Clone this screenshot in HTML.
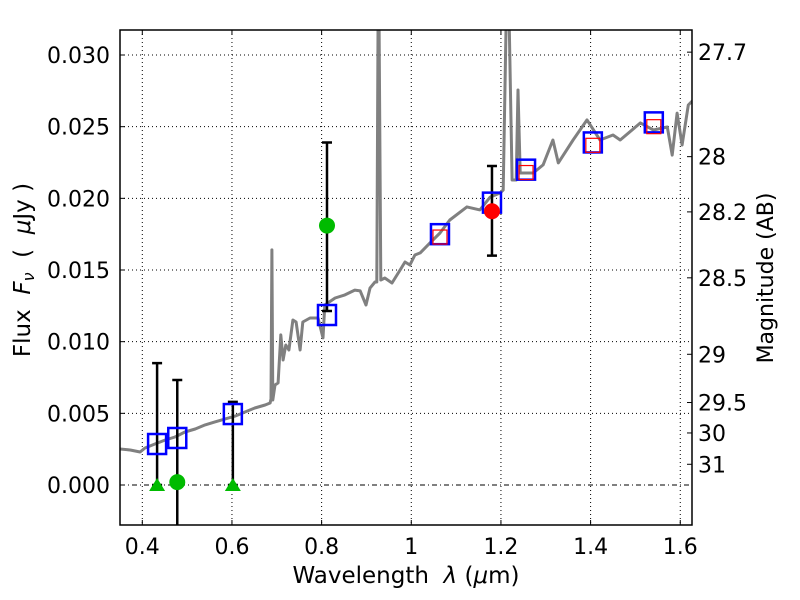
<!DOCTYPE html>
<html><head><meta charset="utf-8"><style>
html,body{margin:0;padding:0;background:#fff;}
svg{display:block;font-family:"DejaVu Sans","Liberation Sans",sans-serif;}
</style></head><body>
<svg id="chart" width="800" height="600" viewBox="0 0 800 600" xmlns="http://www.w3.org/2000/svg">
<rect width="800" height="600" fill="#fff"/>
<defs><clipPath id="clip"><rect x="120" y="30" width="572" height="495"/></clipPath></defs>
<g id="grid"></g>
<g id="marks" clip-path="url(#clip)"></g>
<g id="axes"></g>
<text transform="translate(30,270) rotate(-90)" text-anchor="middle" font-size="23" xml:space="preserve">Flux  <tspan font-style="italic">F</tspan><tspan font-style="italic" font-size="16" dy="4">ν</tspan><tspan dy="-4">  (  </tspan><tspan font-style="italic">μ</tspan>Jy )</text>
<text transform="translate(773,278) rotate(-90)" text-anchor="middle" font-size="22">Magnitude (AB)</text>
<text x="406" y="583" text-anchor="middle" font-size="23" xml:space="preserve">Wavelength  <tspan font-style="italic">λ</tspan> (<tspan font-style="italic">μ</tspan>m)</text>
</svg>
<script>
const specWl=[0.350,0.373,0.395,0.406,0.428,0.451,0.473,0.495,0.518,0.540,0.562,0.584,0.607,0.629,0.651,0.674,0.685,0.687,0.689,0.691,0.696,0.703,0.709,0.714,0.720,0.727,0.736,0.743,0.752,0.758,0.774,0.792,0.803,0.807,0.830,0.852,0.874,0.886,0.899,0.908,0.919,0.923,0.926,0.928,0.932,0.941,0.957,0.975,0.986,0.997,1.008,1.020,1.042,1.064,1.086,1.124,1.153,1.176,1.198,1.205,1.212,1.218,1.225,1.234,1.238,1.243,1.272,1.294,1.316,1.328,1.361,1.392,1.421,1.450,1.466,1.511,1.540,1.571,1.582,1.593,1.604,1.618,1.629];
const specFlux=[0.00251,0.00244,0.00230,0.00258,0.00286,0.00314,0.00335,0.00370,0.00391,0.00419,0.00440,0.00460,0.00481,0.00509,0.00537,0.00558,0.00572,0.00600,0.0164,0.00593,0.00698,0.00712,0.01047,0.00872,0.00977,0.00942,0.01151,0.01137,0.00942,0.01137,0.01165,0.01165,0.01026,0.01256,0.01305,0.01326,0.01360,0.01354,0.01256,0.01374,0.01416,0.01416,0.033,0.033,0.01430,0.01444,0.01409,0.01500,0.01556,0.01535,0.01605,0.01619,0.01690,0.01758,0.01849,0.01940,0.01919,0.02009,0.02037,0.02058,0.033,0.033,0.02128,0.02128,0.02756,0.02177,0.02177,0.02233,0.02407,0.02247,0.02407,0.02547,0.02407,0.02442,0.02407,0.02526,0.02477,0.02498,0.02302,0.02595,0.02372,0.02651,0.02686];
const sqWl=[0.433,0.478,0.602,0.812,1.064,1.180,1.256,1.405,1.541];
const sqFlux=[0.00286,0.00328,0.00495,0.01186,0.0175,0.0197,0.0220,0.0239,0.0253];
const redSqWl=[1.064,1.256,1.405,1.541];
const redSqFlux=[0.0173,0.0218,0.0237,0.0250];
const greenCircWl=[0.478,0.812];
const greenCircFlux=[0.0002,0.0181];
const redCircWl=[1.180];
const redCircFlux=[0.0191];
const triWl=[0.433,0.602];
const triFlux=[0,0];
const errWl=[0.433,0.478,0.602,0.812,1.180];
const errLo=[0,-0.004,0,0.01214,0.0160];
const errHi=[0.0085,0.00733,0.0058,0.0239,0.02226];
const xTicks=[0.4,0.6,0.8,1.0,1.2,1.4,1.6];
const xTickLabels=["0.4","0.6","0.8","1","1.2","1.4","1.6"];
const yTicks=[0,0.005,0.010,0.015,0.020,0.025,0.030];
const yTickLabels=["0.000","0.005","0.010","0.015","0.020","0.025","0.030"];
const magTicks=[27.7,28,28.2,28.5,29,29.5,30,31];
const magTickLabels=["27.7","28","28.2","28.5","29","29.5","30","31"];

const X0=120,X1=692,Y0=30,Y1=525;
const xs=w=>142.3+(w-0.4)*448.3;
const ys=f=>485-f*14333;
const magToFlux=m=>Math.pow(10,(23.9-m)/2.5);
const NS="http://www.w3.org/2000/svg";
function mk(parent,tag,attrs){const e=document.createElementNS(NS,tag);for(const k in attrs)e.setAttribute(k,attrs[k]);parent.appendChild(e);return e;}
const grid=document.getElementById('grid'),marks=document.getElementById('marks'),axes=document.getElementById('axes');

xTicks.forEach((t,i)=>{
  const x=xs(t);
  const g=mk(grid,'line',{x1:x,x2:x,y1:Y0,y2:Y1,stroke:'#000','stroke-width':1,'stroke-dasharray':'1,3'});
  
  
  const tk=mk(axes,'path',{d:`M${x},${Y1}v-5M${x},${Y0}v5`,stroke:'#000','stroke-width':1});
  
  
  const lb=mk(axes,'text',{x:x,y:554,'text-anchor':'middle','font-size':22});
  lb.textContent=xTickLabels[i];
  
  
});
yTicks.forEach((t,i)=>{
  const y=ys(t);
  const g=mk(grid,'line',{x1:X0,x2:X1,y1:y,y2:y,stroke:'#000','stroke-width':1,'stroke-dasharray':t===0?'5,3,1,3':'1,3'});
  
  
  const tk=mk(axes,'path',{d:`M${X0},${y}h5`,stroke:'#000','stroke-width':1});
  
  
  const lb=mk(axes,'text',{x:110,y:y+8,'text-anchor':'end','font-size':22});
  lb.textContent=yTickLabels[i];
  
  
});
magTicks.forEach((m,i)=>{
  const y=ys(magToFlux(m));
  const tk=mk(axes,'path',{d:`M${X1},${y}h-5`,stroke:'#000','stroke-width':1});
  
  
  const lb=mk(axes,'text',{x:698,y:y+8,'text-anchor':'start','font-size':22});
  lb.textContent=magTickLabels[i];
  
  
});

let d='';
specWl.forEach((w,i)=>{d+=(i?'L':'M')+xs(w).toFixed(1)+','+ys(specFlux[i]).toFixed(1);});
const sp=mk(marks,'path',{d:d,fill:'none',stroke:'#808080','stroke-width':3,'stroke-linejoin':'round'});



errWl.forEach((w,i)=>{
  const x=xs(w),a=ys(errLo[i]),b=ys(errHi[i]);
  const e=mk(marks,'path',{d:`M${x},${a}V${b}M${x-5},${b}h10M${x-5},${a}h10`,stroke:'#000','stroke-width':2.5});
  
  
});
sqWl.forEach((w,i)=>{
  const x=xs(w),y=ys(sqFlux[i]);
  const r=mk(marks,'rect',{x:x-9,y:y-10,width:18,height:20,fill:'none',stroke:'#0000ff','stroke-width':2.5});
  
  
});
redSqWl.forEach((w,i)=>{
  const x=xs(w),y=ys(redSqFlux[i]);
  const r=mk(marks,'rect',{x:x-7,y:y-7,width:14,height:14,fill:'none',stroke:'#ff0000','stroke-width':1.2});
  
  
});
greenCircWl.forEach((w,i)=>{
  const c=mk(marks,'circle',{cx:xs(w),cy:ys(greenCircFlux[i]),r:8,fill:'#00bb00'});
  
  
});
redCircWl.forEach((w,i)=>{
  const c=mk(marks,'circle',{cx:xs(w),cy:ys(redCircFlux[i]),r:8,fill:'#ff0000'});
  
  
});
triWl.forEach((w,i)=>{
  const x=xs(w),y=ys(triFlux[i]);
  const t=mk(marks,'path',{d:`M${x},${y-7}L${x+8},${y+6}L${x-8},${y+6}Z`,fill:'#00bb00'});
  
  
});
const frame=mk(axes,'rect',{x:X0,y:Y0,width:X1-X0,height:Y1-Y0,fill:'none',stroke:'#000','stroke-width':1.5});


</script>
</body></html>
